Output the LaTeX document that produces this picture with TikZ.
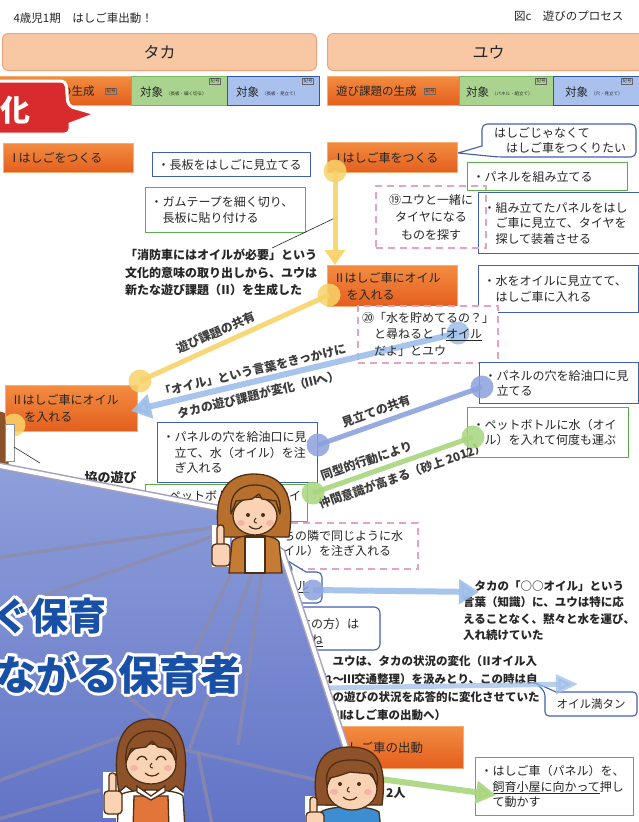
\documentclass[tikz,border=0pt]{standalone}
\usepackage{fontspec}
\setmainfont{Noto Sans CJK JP}
\usetikzlibrary{arrows.meta,shapes.geometric}
\newcommand\fsz[2]{\fontsize{#1}{#2}\selectfont}
% narrow setting for full-width roman numerals
\newcommand\rmn[2]{\makebox[#1][c]{#2}}
\definecolor{orTop}{HTML}{F28C40}
\definecolor{orBot}{HTML}{E45E1E}
\definecolor{orEdge}{HTML}{F5AE70}
\definecolor{hdrFill}{HTML}{F8C8A4}
\definecolor{hdrEdge}{HTML}{E8A47A}
\definecolor{grFill}{HTML}{A9D38E}
\definecolor{grEdge}{HTML}{78B862}
\definecolor{blFill}{HTML}{A9C1EC}
\definecolor{blEdge}{HTML}{2E55A6}
\definecolor{boxBlue}{HTML}{4360B0}
\definecolor{boxGreen}{HTML}{5EAE4B}
\definecolor{pinkDash}{HTML}{E3A4C4}
\definecolor{yel}{HTML}{F8D36A}
\definecolor{lblue}{HTML}{9EBEEA}
\definecolor{mblue}{HTML}{8CA2DD}
\definecolor{lgreen}{HTML}{A8D67E}
\definecolor{ink}{HTML}{262626}
\definecolor{calRed}{HTML}{D92B2E}
\definecolor{posTop}{HTML}{8E9FDB}
\definecolor{posBot}{HTML}{6273C6}
\definecolor{netLine}{HTML}{8F8BA8}
\definecolor{titleBlue}{HTML}{1750A6}
\definecolor{skin}{HTML}{F9D3B3}
\definecolor{hairA}{HTML}{B76F2E}
\definecolor{hairB}{HTML}{8E522A}
\definecolor{outl}{HTML}{4E2E14}
\definecolor{cardigan}{HTML}{C47B34}
\definecolor{apron}{HTML}{E2763A}
\definecolor{shirtBlue}{HTML}{3C8DD2}
\definecolor{blush}{HTML}{F2A0A0}
\begin{document}
\begin{tikzpicture}[x=1pt, y=-1pt,
  hdr/.style={draw=hdrEdge, fill=hdrFill, rounded corners=6pt, line width=1pt, font=\fsz{16}{18}, anchor=north west, minimum height=37pt, inner sep=0pt, text=ink},
  sub/.style={line width=1pt, anchor=north west, minimum height=29pt, inner sep=0pt},
  subor/.style={sub, draw=orEdge, top color=orTop, bottom color=orBot},
  subgr/.style={sub, draw=grEdge, fill=grFill},
  subbl/.style={sub, draw=blEdge, fill=blFill, line width=1.4pt},
  subtxt/.style={anchor=west, font=\fsz{11.5}{13}, text=ink, inner sep=0pt},
  tiny/.style={anchor=west, font=\fsz{4.5}{5}, text=ink, inner sep=0pt},
  tag/.style={draw=ink!70, line width=0.5pt, inner sep=1pt, font=\fsz{4.5}{5}, text=ink},
  obox/.style={draw=orEdge, top color=orTop, bottom color=orBot, line width=1pt, anchor=north west, inner xsep=7pt, inner ysep=3pt, align=left, font=\fsz{12}{17}, text=ink},
  cbox/.style={fill=white, line width=1.1pt, anchor=north west, inner sep=5pt, align=left, font=\fsz{12}{15.5}, text=ink},
  bbox/.style={cbox, draw=boxBlue},
  gbox/.style={cbox, draw=boxGreen},
  pbox/.style={draw=pinkDash, line width=2pt, dash pattern=on 7pt off 5pt, anchor=north west, inner sep=0pt},
  note/.style={anchor=north west, align=left, font=\bfseries\fsz{12}{17.5}, text=ink, inner sep=0pt},
  lab/.style={font=\bfseries\fsz{12}{14}, text=ink, inner sep=1.5pt},
  dot/.style={circle, minimum size=23pt, inner sep=0pt, opacity=0.85},
  yline/.style={yel, line width=5pt, opacity=0.9},
  bline/.style={lblue, line width=6pt, opacity=0.9},
  mline/.style={mblue, line width=5pt, opacity=0.9},
  gline/.style={lgreen, line width=5pt, opacity=0.9},
  net/.style={netLine, line width=3.5pt, opacity=0.75},
  ttl/.style={font=\bfseries\fsz{#1}{#1}, inner sep=0pt, anchor=east},
  halo/.style={white, line width=8pt, line join=round, fill=white},
  ol/.style={draw=outl, line width=1.3pt}
]
\useasboundingbox (0,0) rectangle (639,822);
\clip (0,0) rectangle (639,822);
\fill[white] (0,0) rectangle (639,822);

% ---------- title line ----------
\node[anchor=west, font=\fsz{11.5}{13}, text=ink] (ttlL) at (10,18) {4歳児1期　はしご車出動！};
\node[anchor=east, font=\fsz{11.5}{13}, text=ink] (ttlR) at (627,16) {図c　遊びのプロセス};

% ---------- column headers ----------
\node[hdr, minimum width=314pt] (hT) at (2,33) {タカ};
\node[hdr, minimum width=322pt] (hY) at (327,33) {ユウ};

% ---------- sub headers ----------
\node[subor, minimum width=133pt] (sT1) at (-2,76) {};
\node[subtxt] (sT1t) at (14,91) {遊び課題の生成};
\node[tag] (sT1g) at (111,91) {記号};
\node[subgr, minimum width=96pt] (sT2) at (131,76) {};
\node[subtxt] (sT2t) at (140,92) {対象};
\node[tiny] (sT2s) at (166,94) {（長板・細く切る）};
\node[tag] (sT2g) at (215,81) {記号};
\node[subbl, minimum width=92pt] (sT3) at (227,76) {};
\node[subtxt] (sT3t) at (236,92) {対象};
\node[tiny] (sT3s) at (262,94) {（長板・見立て）};
\node[tag] (sT3g) at (308,81) {記号};

\node[subor, minimum width=132pt] (sY1) at (327,76) {};
\node[subtxt] (sY1t) at (336,91) {遊び課題の生成};
\node[tag] (sY1g) at (430,91) {記号};
\node[subgr, minimum width=94pt] (sY2) at (459,76) {};
\node[subtxt] (sY2t) at (466,92) {対象};
\node[tiny] (sY2s) at (492,94) {（パネル・組立て）};
\node[tag] (sY2g) at (541,81) {記号};
\node[subbl, minimum width=95pt] (sY3) at (553,76) {};
\node[subtxt] (sY3t) at (565,92) {対象};
\node[tiny] (sY3s) at (591,94) {（穴・見立て）};
\node[tag] (sY3g) at (627,81) {記号};

% ---------- red caption bubble ----------
\draw[line width=3pt, white, fill=calRed, rounded corners=5pt] (-10,81) -- (66,81) -- (68,106) [sharp corners] -- (96,114) -- (70,124) [rounded corners=5pt] -- (70,134) -- (-10,134) -- cycle;
\node[font=\bfseries\fsz{30}{30}, text=white, inner sep=0pt] (ka) at (16,110) {化};

% ---------- Taka column ----------
\node[obox, text width=116pt, minimum height=29pt] (oT1) at (3,143) {\rmn{8pt}{Ⅰ}はしごをつくる};
\node[bbox, text width=148pt, minimum height=24pt] (b1) at (152,152) {・長板をはしごに見立てる};
\node[gbox, text width=150pt, minimum height=45pt] (g1) at (145,187) {・ガムテープを細く切り、\\　長板に貼り付ける};
\node[note] (n1) at (125,249) {「消防車にはオイルが必要」という\\文化的意味の取り出しから、ユウは\\新たな遊び課題（\rmn{9pt}{Ⅱ}）を生成した};
\node[obox, text width=118pt, minimum height=46pt] (oT2) at (5,385) {\rmn{10pt}{Ⅱ}はしご車にオイル\\　を入れる};
\node[bbox, text width=150pt, minimum height=60pt] (b2) at (157,422) {・パネルの穴を給油口に見\\　立て、水（オイル）を注\\　ぎ入れる};
\node[draw=boxGreen, line width=1.1pt, fill=white, anchor=north west, minimum width=162pt, minimum height=37pt, inner sep=0pt] (gT3) at (145,484) {};
\node[anchor=west, font=\fsz{12}{15}, text=ink, inner sep=0pt] (gT3t) at (157,496) {・ペットボトルに水（オイ};
\node[lab, anchor=west, font=\bfseries\fsz{13}{14}] (lk) at (83,478) {協の遊び};

% ---------- Yuu column ----------
\draw[boxBlue, line width=1.1pt, fill=white] (482,130) [rounded corners=5pt] -- (482,124) -- (636,124) -- (636,157) -- (498,157) [sharp corners] -- (458,153) -- (482,146) -- cycle;
\node[anchor=north west, font=\fsz{12}{15}, align=left, text=ink, inner sep=0pt] (callY) at (494,127) {はしごじゃなくて\\　はしご車をつくりたい};
\node[obox, text width=116pt, minimum height=30pt] (oY1) at (327,142) {\rmn{8pt}{Ⅰ}はしご車をつくる};
\node[gbox, text width=150pt, minimum height=28pt] (gY1) at (467,162) {・パネルを組み立てる};
\node[bbox, text width=151pt, minimum height=61pt] (bY1) at (478,192) {・組み立てたパネルをはし\\　ご車に見立て、タイヤを\\　探して装着させる};
\node[pbox, minimum width=110pt, minimum height=62pt, align=center, font=\fsz{12}{17.5}, text=ink] (pk1) at (375,185) {⑲ユウと一緒に\\タイヤになる\\ものを探す};
\node[obox, text width=116pt, minimum height=41pt] (oY2) at (327,265) {\rmn{10pt}{Ⅱ}はしご車にオイル\\　を入れる};
\node[bbox, text width=150pt, minimum height=47pt] (bY2) at (478,265) {・水をオイルに見立てて、\\　はしご車に入れる};
\node[pbox, fill=white, minimum width=140pt, minimum height=57pt] (pk2) at (357,305) {};
\node[bbox, text width=149pt, minimum height=41pt] (bY3) at (479,362) {・パネルの穴を給油口に見\\　立てる};
\node[gbox, text width=151pt, minimum height=50pt] (gY2) at (467,407) {・ペットボトルに水（オイ\\　ル）を入れて何度も運ぶ};
\node[pbox, fill=white, minimum width=182pt, minimum height=46pt] (pk3) at (235,522) {};
\node[anchor=north west, font=\fsz{12}{15.5}, align=left, text=ink, inner sep=0pt] (pk3t) at (283,530) {ちの隣で同じように水\\イル）を注ぎ入れる};

% small speech box and rounded box near the panel edge
\draw[boxBlue, line width=1.1pt, fill=white] (232,580) [rounded corners=5pt] -- (232,572) -- (294,572) [sharp corners] -- (288,561) -- (306,572) [rounded corners=5pt] -- (322,572) -- (322,603) -- (232,603) -- cycle;
\node[anchor=west, font=\fsz{12}{14}, text=ink, inner sep=0pt] (callS) at (297,587) {\underline{ル}};
\draw[boxBlue, line width=1.1pt, fill=white, rounded corners=6pt] (240,607) rectangle (380,650);
\node[anchor=west, font=\fsz{12}{14}, text=ink, inner sep=0pt] (bS2a) at (299,624) {生の方）は};
\node[anchor=west, font=\fsz{12}{14}, text=ink, inner sep=0pt] (bS2b) at (311,641) {\underline{ね}};

\node[note, font=\bfseries\fsz{11.5}{16.5}] (n2) at (463,580) {　タカの「○○オイル」という\\言葉（知識）に、ユウは特に応\\えることなく、黙々と水を運び、\\入れ続けていた};
\node[note, font=\bfseries\fsz{11.5}{18}] (n3) at (321,655) {　ユウは、タカの状況の変化（\rmn{9pt}{Ⅱ}オイル入\\れ～\rmn{10pt}{Ⅲ}交通整理）を汲みとり、この時は自\\らの遊びの状況を応答的に変化させていた\\（\rmn{10pt}{Ⅲ}はしご車の出動へ）};
\draw[boxBlue, line width=1.1pt, fill=white] (545,700) [rounded corners=4pt] -- (545,692) [sharp corners] -- (536,683) -- (556,692) [rounded corners=4pt] -- (637,692) -- (637,716) -- (545,716) -- cycle;
\node[font=\fsz{11.5}{13}, text=ink, inner sep=0pt] (callO) at (591,704) {オイル満タン};
\node[obox, text width=131pt, minimum height=42pt, font=\fsz{12.5}{17}] (oY3) at (318,726) {\rmn{10pt}{Ⅲ}はしご車の出動};
\node[anchor=west, font=\bfseries\fsz{12}{14}, text=ink, inner sep=0pt] (two) at (386,793) {2人};
\node[gbox, text width=148pt, minimum height=58pt] (gY3) at (475,757) {・はしご車（パネル）を、\\　\underline{飼育小屋に向かって}押し\\　て動かす};

% ---------- connectors ----------
\coordinate (ld1) at (272,248);
\coordinate (ld2) at (337,217);
\draw[ink, line width=0.6pt] (ld1) -- (ld2);

\coordinate (pY1) at (335,171);
\coordinate (pY2) at (329,295);
\coordinate (pT3) at (140,381);
\coordinate (pT4) at (14,425);
\coordinate (pB1) at (458,333);
\coordinate (pT2) at (131,411);
\coordinate (pB3) at (482,387);
\coordinate (pB2) at (318,445);
\coordinate (pG2) at (473,437);
\coordinate (pG3) at (313,493);
\coordinate (pS) at (313,590);
\coordinate (pS2) at (479,592);
\coordinate (pL) at (262,689);
\coordinate (pL2) at (578,684);
\coordinate (pG4) at (330,772);
\coordinate (pG5) at (496,795);

\draw[yline, -{Triangle[width=20pt,length=15pt]}] (pY1) -- (pY1 |- oY2.north);
\draw[yline] (pY2) -- (pT3) node[lab, sloped, above=3pt, pos=0.57] (labY) {遊び課題の共有};
\draw[bline, -{Triangle[width=24pt,length=20pt]}] (pB1) -- (pT2)
  node[lab, sloped, above=1pt, pos=0.62] (labB1) {「オイル」という言葉をきっかけに}
  node[lab, sloped, below=3pt, pos=0.62] (labB2) {タカの遊び課題が変化（\rmn{10pt}{Ⅲ}へ）};
\draw[mline] (pB3) -- (pB2) node[lab, sloped, above=3pt, pos=0.62] (labM) {見立ての共有};
\draw[gline] (pG2) -- (pG3)
  node[lab, sloped, above=3pt, pos=0.64] (labG1) {同型的行動により}
  node[lab, sloped, below=3pt, pos=0.47] (labG2) {仲間意識が高まる（砂上 2012）};
\draw[bline, -{Triangle[width=24pt,length=20pt]}] (pS) -- (pS2);
\draw[bline, line width=5pt, opacity=0.75, -{Triangle[width=19pt,length=22pt]}] (pL) -- (pL2);
\draw[gline, line width=6pt, -{Triangle[width=22pt,length=20pt]}] (pG4) -- (pG5);

\node[dot, fill=yel] (dY1) at (pY1) {};
\node[dot, fill=yel] (dY2) at (pY2) {};
\node[dot, fill=yel] (dT3) at (pT3) {};
\node[dot, fill=yel] (dT4) at (pT4) {};
\node[dot, fill=lblue] (dB1) at (pB1) {};
\node[dot, fill=mblue] (dB3) at (pB3) {};
\node[dot, fill=mblue] (dB2) at (pB2) {};
\node[dot, fill=lgreen] (dG2) at (pG2) {};
\node[dot, fill=lgreen] (dG3) at (pG3) {};
\node[dot, fill=mblue, minimum size=21pt] (dS) at (pS) {};

\node[anchor=north west, font=\fsz{12}{16.5}, align=left, text=ink, inner sep=0pt] (pk2t) at (362,312) {⑳「水を貯めてるの？」\\　と尋ねると「\underline{オイル}\\　だよ」とユウ};

% ---------- left edge figure ----------
\fill[hairB] (-5,410) -- (5,413) -- (9,468) -- (6,522) -- (-5,522) -- cycle;
\draw[ink!50, fill=white, line width=0.8pt] (5,424) rectangle (14,461);
\draw[ink, line width=0.6pt] (14,447) -- (40,463);

% ---------- poster panel ----------
\fill[top color=posTop, bottom color=posBot] (-5,465) -- (218,508) -- (282,552) -- (345,745) -- (373,830) -- (-5,830) -- cycle;
\begin{scope}
  \clip (-5,465) -- (218,508) -- (282,552) -- (345,745) -- (373,830) -- (-5,830) -- cycle;
  \draw[net] (217,527) -- (-5,558);
  \draw[net] (214,536) -- (-5,612);
  \draw[net] (233,570) -- (160,725);
  \draw[net] (253,570) -- (190,748);
  \draw[net] (262,572) -- (238,745);
  \draw[net] (110,683) -- (155,718);
  \draw[net] (185,750) -- (330,783);
  \draw[net] (198,752) -- (213,830);
  \draw[net] (123,736) -- (-5,782);
  \draw[net] (100,790) -- (-5,820);
\end{scope}
\draw[line width=7pt, netLine!80] (-5,465) -- (218,508) -- (282,552) -- (345,745) -- (373,830);
\draw[line width=4pt, white] (-5,465) -- (218,508) -- (282,552) -- (345,745) -- (373,830);

% poster title with white outline
\foreach \a in {0,30,...,330} {
  \node[ttl=38, text=white, shift={(\a:3pt)}] (tA\a) at (107,616) {ぐ保育};
  \node[ttl=41, text=white, shift={(\a:3pt)}] (tB\a) at (242,674) {ながる保育者};
}
\node[ttl=38, text=titleBlue] (tA) at (107,616) {ぐ保育};
\node[ttl=41, text=titleBlue] (tB) at (242,674) {ながる保育者};

% ---------- figure 1: bob hair, cardigan ----------
\begin{scope}
  \path[halo] (219,537) .. controls (212,492) and (228,474) .. (254,474) .. controls (281,474) and (296,492) .. (289,537) -- cycle;
  \path[halo] (229,573) -- (232,538) -- (279,538) -- (282,573) -- cycle;
  \path[halo] (212,525) rectangle (230,567);
  \fill[hairA] (219,537) .. controls (212,492) and (228,474) .. (254,474) .. controls (281,474) and (296,492) .. (289,537) -- cycle;
  \draw[ol] (219,537) .. controls (212,492) and (228,474) .. (254,474) .. controls (281,474) and (296,492) .. (289,537) -- cycle;
  \filldraw[fill=cardigan, ol] (229,573) -- (232,542) .. controls (236,533) and (275,533) .. (279,542) -- (282,573) -- cycle;
  \filldraw[fill=white, ol] (245,573) -- (245,537) -- (265,537) -- (265,573) -- cycle;
  \filldraw[fill=skin, ol] (255,516) ellipse [x radius=22pt, y radius=19pt];
  \filldraw[fill=hairA, ol, line join=round] (231,514) .. controls (229,493) and (240,485) .. (255,485) .. controls (270,485) and (282,493) .. (280,514) -- (276,501) -- (262,499) -- (259,494) -- (252,499) -- (236,501) -- cycle;
  \fill[outl] (248,515) circle (2pt) (263,515) circle (2pt);
  \draw[outl, line width=1pt] (256,518) .. controls (253,521) and (254,523) .. (257,523);
  \draw[outl, line width=1.2pt] (249,526) .. controls (253,530) and (259,530) .. (262,526);
  \fill[blush, opacity=0.6] (241,523) ellipse [x radius=4pt, y radius=3pt] (270,523) ellipse [x radius=4pt, y radius=3pt];
  \filldraw[fill=skin, ol, rounded corners=3pt] (217,525) rectangle (224,549);
  \filldraw[fill=skin, ol, rounded corners=4pt] (212,544) rectangle (230,566);
\end{scope}

% ---------- figure 2: apron ----------
\begin{scope}
  \path[halo] (119,792) .. controls (110,740) and (125,719) .. (151,719) .. controls (177,719) and (192,740) .. (183,792) -- cycle;
  \path[halo] (116,790) rectangle (184,830);
  \path[halo] (103,772) rectangle (123,818);
  \filldraw[fill=hairB, ol] (119,792) .. controls (110,740) and (125,719) .. (151,719) .. controls (177,719) and (192,740) .. (183,792) -- (176,786) -- (168,792) -- (134,792) -- (126,786) -- cycle;
  \filldraw[fill=white, ol] (117,830) -- (119,796) .. controls (125,788) and (177,788) .. (183,796) -- (185,830) -- cycle;
  \filldraw[fill=apron, ol] (133,830) -- (134,796) -- (168,796) -- (169,830) -- cycle;
  \filldraw[fill=white, ol] (137,786) -- (151,796) -- (165,786) -- (165,792) -- (151,800) -- (137,792) -- cycle;
  \filldraw[fill=skin, ol] (151,764) ellipse [x radius=25pt, y radius=20pt];
  \filldraw[fill=hairB, ol, line join=round] (126,762) .. controls (124,738) and (138,731) .. (151,731) .. controls (164,731) and (178,738) .. (176,762) -- (171,749) -- (158,747) -- (152,741) -- (146,747) -- (131,749) -- cycle;
  \draw[outl, line width=1.3pt] (137,760) .. controls (139,755) and (145,755) .. (147,760);
  \draw[outl, line width=1.3pt] (156,760) .. controls (158,755) and (164,755) .. (166,760);
  \draw[outl, line width=1pt] (152,763) .. controls (149,766) and (150,768) .. (153,768);
  \draw[outl, line width=1.2pt] (145,773) .. controls (149,777) and (155,777) .. (159,773);
  \fill[blush, opacity=0.6] (134,768) ellipse [x radius=4pt, y radius=3pt] (168,768) ellipse [x radius=4pt, y radius=3pt];
  \filldraw[fill=skin, ol, rounded corners=3pt] (109,773) rectangle (116,796);
  \filldraw[fill=skin, ol, rounded corners=4pt] (104,791) rectangle (122,814);
\end{scope}

% ---------- figure 3: short hair, blue shirt ----------
\begin{scope}
  \path[halo] (317,805) .. controls (310,760) and (325,747) .. (350,747) .. controls (375,747) and (388,760) .. (382,805) -- cycle;
  \path[halo] (318,806) rectangle (380,830);
  \path[halo] (305,796) rectangle (325,830);
  \filldraw[fill=hairB, ol] (317,805) .. controls (310,760) and (325,747) .. (350,747) .. controls (375,747) and (388,760) .. (382,805) -- cycle;
  \filldraw[fill=shirtBlue, ol] (319,830) -- (321,812) .. controls (330,805) and (370,805) .. (379,812) -- (381,830) -- cycle;
  \filldraw[fill=skin, ol] (352,789) ellipse [x radius=25pt, y radius=21pt];
  \filldraw[fill=hairB, ol, line join=round] (327,786) .. controls (324,765) and (336,760) .. (352,760) .. controls (368,760) and (380,765) .. (377,786) -- (372,774) -- (350,772) -- (338,776) -- (330,778) -- cycle;
  \fill[outl] (340,784) circle (2pt) (359,784) circle (2pt);
  \draw[outl, line width=1pt] (349,787) .. controls (346,790) and (347,792) .. (350,792);
  \draw[outl, line width=1.2pt] (343,797) .. controls (347,801) and (353,801) .. (357,797);
  \fill[blush, opacity=0.6] (334,792) ellipse [x radius=4pt, y radius=3pt] (368,792) ellipse [x radius=4pt, y radius=3pt];
  \filldraw[fill=skin, ol, rounded corners=3pt] (310,797) rectangle (317,817);
  \filldraw[fill=skin, ol, rounded corners=4pt] (306,812) rectangle (324,832);
\end{scope}
\end{tikzpicture}
\end{document}
